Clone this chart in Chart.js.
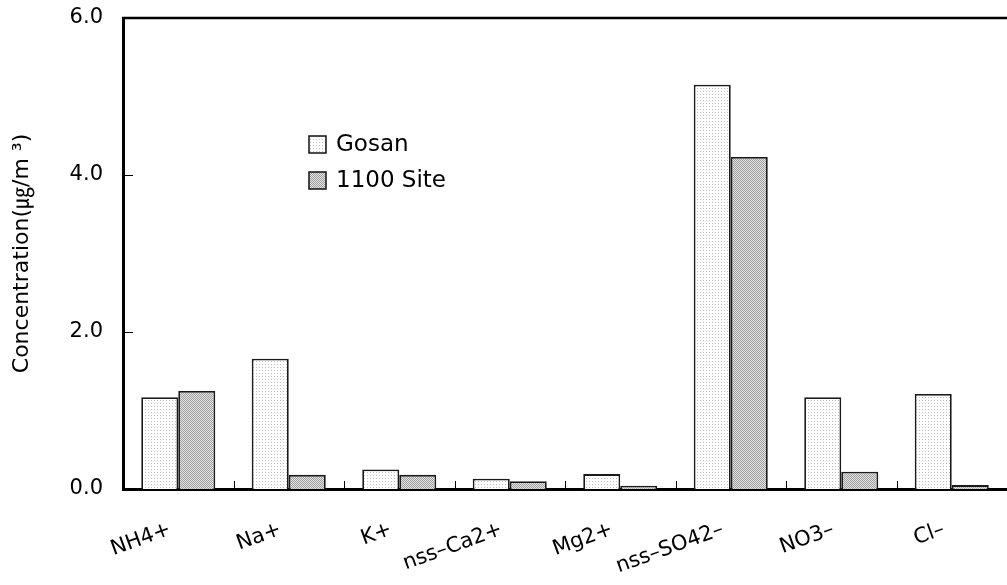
<!DOCTYPE html>
<html>
<head>
<meta charset="utf-8">
<script src="https://cdn.jsdelivr.net/npm/chart.js@4.4.1/dist/chart.umd.min.js"></script>
<style>
html,body{margin:0;padding:0;background:#fff;}
#wrap{width:1007px;height:585px;position:relative;}
</style>
</head>
<body>
<div id="wrap"><canvas id="c" width="1007" height="585"></canvas></div>
<script>
const categories = ["NH4+", "Na+", "K+", "nss\u2013Ca2+", "Mg2+", "nss\u2013SO42\u2013", "NO3\u2013", "Cl\u2013"];
const gosan = [1.17, 1.66, 0.25, 0.13, 0.19, 5.15, 1.17, 1.21];
const site1100 = [1.25, 0.18, 0.18, 0.10, 0.04, 4.23, 0.22, 0.05];
const seriesNames = ["Gosan", "1100 Site"];
const yTicks = [0, 2, 4, 6];
const yTitle = "Concentration(\u338D/m \u00B3)";

function makePattern(bg, dot, size, cells) {
  const p = document.createElement('canvas');
  p.width = size; p.height = size;
  const g = p.getContext('2d');
  g.fillStyle = bg; g.fillRect(0, 0, size, size);
  g.fillStyle = dot;
  cells.forEach(c => g.fillRect(c[0], c[1], 1, 1));
  return document.getElementById('c').getContext('2d').createPattern(p, 'repeat');
}
const patGosan = makePattern('#ffffff', '#c0c0c0', 3, [[1, 1]]);
const patSite = makePattern('#e2e2e2', '#a0a0a0', 2, [[0, 0], [1, 1]]);

const FONT = "'DejaVu Sans', 'Noto Sans CJK KR', sans-serif";

const decor = {
  id: 'decor',
  afterDraw(chart) {
    const ctx = chart.ctx, a = chart.chartArea;
    const xs = chart.scales.x, ys = chart.scales.y;
    ctx.save();
    ctx.strokeStyle = '#000';
    // top border
    ctx.lineWidth = 2.5;
    ctx.beginPath();
    ctx.moveTo(a.left - 1, a.top);
    ctx.lineTo(a.right + 2, a.top);
    ctx.stroke();
    // inward y ticks
    ctx.lineWidth = 1;
    yTicks.forEach(v => {
      if (v === 0 || v === 6) return;
      const y = Math.round(ys.getPixelForValue(v)) + 0.5;
      ctx.beginPath(); ctx.moveTo(a.left, y); ctx.lineTo(a.left + 10, y); ctx.stroke();
    });
    // inward x ticks between categories
    for (let i = 0; i < categories.length - 1; i++) {
      const x = Math.round((xs.getPixelForValue(i) + xs.getPixelForValue(i + 1)) / 2) + 0.5;
      ctx.beginPath(); ctx.moveTo(x, a.bottom); ctx.lineTo(x, a.bottom - 8); ctx.stroke();
    }
    // legend
    const ds = chart.data.datasets;
    const lx = 309, ly = [136, 172];
    ctx.font = "23px " + FONT;
    ctx.textBaseline = 'middle';
    ctx.textAlign = 'left';
    ds.forEach((d, i) => {
      ctx.fillStyle = d.backgroundColor;
      ctx.fillRect(lx, ly[i], 17, 17);
      ctx.lineWidth = 1.5;
      ctx.strokeStyle = '#111';
      ctx.strokeRect(lx, ly[i], 17, 17);
      ctx.fillStyle = '#000';
      ctx.fillText(d.label, lx + 27, ly[i] + 9);
    });
    ctx.restore();
  }
};

new Chart(document.getElementById('c'), {
  type: 'bar',
  data: {
    labels: categories,
    datasets: [
      { label: seriesNames[0], data: gosan, backgroundColor: patGosan, borderColor: '#1a1a1a', borderWidth: 1.8 },
      { label: seriesNames[1], data: site1100, backgroundColor: patSite, borderColor: '#1a1a1a', borderWidth: 1.8 }
    ]
  },
  options: {
    responsive: false,
    animation: false,
    events: [],
    layout: { padding: { top: 18, right: 0, left: 0, bottom: 0 } },
    plugins: { legend: { display: false }, tooltip: { enabled: false } },
    datasets: { bar: { categoryPercentage: 0.67, barPercentage: 1.0 } },
    scales: {
      x: {
        grid: { display: false, drawTicks: false },
        border: { display: true, color: '#000', width: 3 },
        ticks: {
          color: '#000', font: { family: FONT, size: 21 },
          minRotation: 20, maxRotation: 20, padding: 28, labelOffset: -8, autoSkip: false
        },
        afterFit(s) { s.height = 96; s.paddingLeft = 0; s.paddingRight = 0; s.paddingTop = 0; s.paddingBottom = 0; }
      },
      y: {
        min: 0, max: 6,
        grid: { display: false, drawTicks: false },
        border: { display: true, color: '#000', width: 3 },
        afterBuildTicks(s) { s.ticks = yTicks.map(v => ({ value: v })); },
        ticks: {
          color: '#000', font: { family: FONT, size: 21 }, padding: 20,
          callback: v => v.toFixed(1)
        },
        title: {
          display: true, text: yTitle, color: '#000',
          font: { family: FONT, size: 22 }, padding: { top: 9, bottom: 0 }
        },
        afterFit(s) { s.width = 123; s.paddingTop = 0; s.paddingBottom = 0; s.paddingLeft = 0; s.paddingRight = 0; }
      }
    }
  },
  plugins: [decor]
});
</script>
</body>
</html>
